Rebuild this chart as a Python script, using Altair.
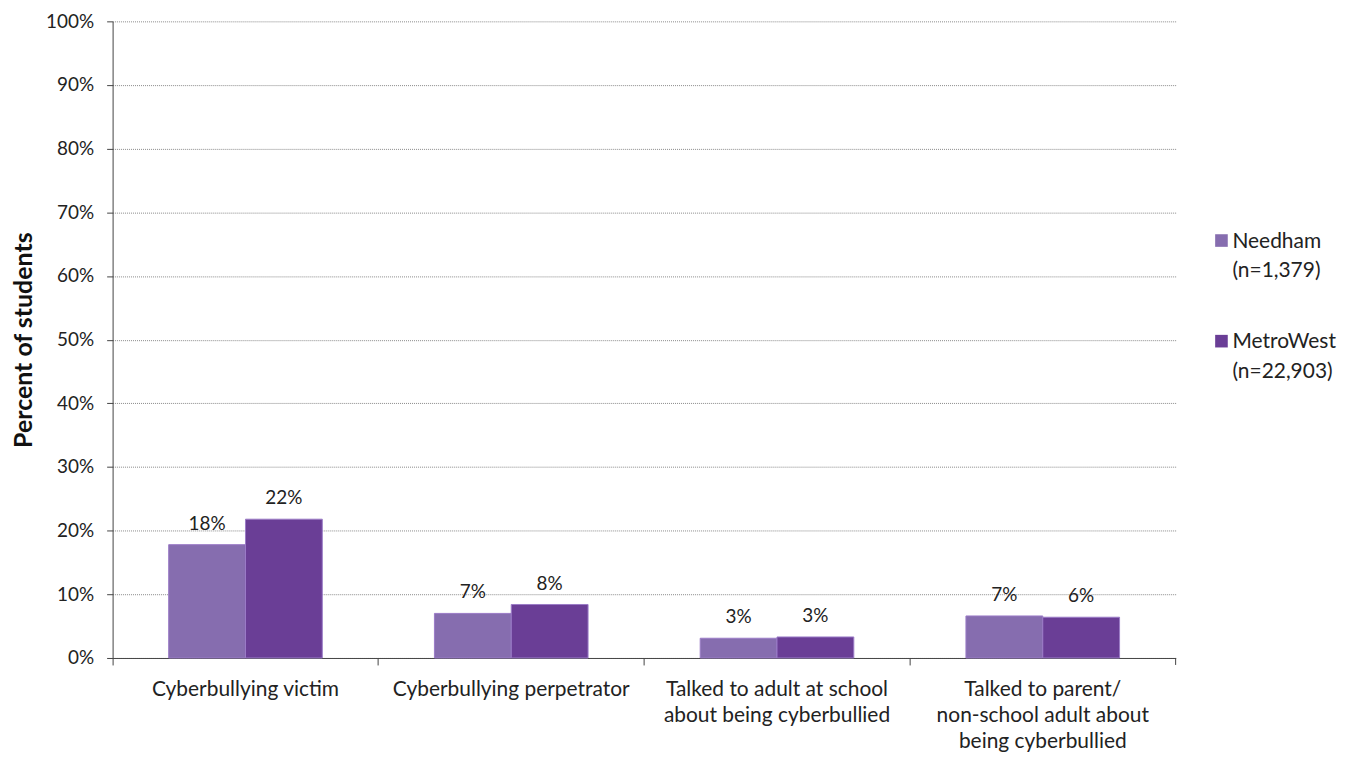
import altair as alt
import pandas as pd

categories = [
    "Cyberbullying victim",
    "Cyberbullying perpetrator",
    "Talked to adult at school|about being cyberbullied",
    "Talked to parent/|non-school adult about|being cyberbullied",
]
groups = ["Needham", "MetroWest"]
group_n = ["(n=1,379)", "(n=22,903)"]
needham = [0.178, 0.070, 0.031, 0.066]
metrowest = [0.218, 0.084, 0.033, 0.064]
colors = ["#866DAF", "#6A3E96"]

rows = []
for i, c in enumerate(categories):
    rows.append({"cat": c, "grp": groups[0], "val": needham[i]})
    rows.append({"cat": c, "grp": groups[1], "val": metrowest[i]})
df = pd.DataFrame(rows)

FONT = "Lato"
FS_TXT = 21
FS_NUM = 19

x = alt.X("cat:N", sort=categories, title=None,
          scale=alt.Scale(paddingInner=0, paddingOuter=0),
          axis=alt.Axis(labelExpr="split(datum.label, '|')", labelAngle=0,
                        bandPosition=0, tickSize=7, tickColor="#444",
                        domainColor="#444", labelPadding=14, labelFontSize=FS_TXT,
                        labelColor="#222", labelFont=FONT, labelLineHeight=26,
                        labelBaseline="top", labelLimit=400))
xo = alt.XOffset("grp:N", sort=groups,
                 scale=alt.Scale(paddingOuter=0.73, paddingInner=0))
y = alt.Y("val:Q", title="Percent of students",
          scale=alt.Scale(domain=[0, 1]),
          axis=alt.Axis(format=".0%", values=[i / 10 for i in range(11)],
                        gridDash=[1, 1], gridColor="#8a8a8a", gridWidth=1,
                        tickSize=6, tickColor="#444", domainColor="#444",
                        labelFontSize=FS_NUM, labelColor="#222", labelFont=FONT,
                        labelPadding=13, titleFontSize=25, titleFont=FONT,
                        titleFontWeight="bold", titleColor="#111",
                        titlePadding=9))

bars = alt.Chart(df).mark_bar(stroke="#9B7BC7", strokeWidth=1).encode(
    x=x, xOffset=xo, y=y,
    color=alt.Color("grp:N", sort=groups,
                    scale=alt.Scale(domain=groups, range=colors),
                    legend=None),
)
labels = alt.Chart(df).mark_text(dy=-21, fontSize=FS_NUM, font=FONT, color="#222").encode(
    x=x, xOffset=xo, y=y, text=alt.Text("val:Q", format=".0%"),
)
endtick = alt.Chart(pd.DataFrame({"a": [0]})).mark_rule(color="#444").encode(
    x=alt.value(1067), y=alt.value(639), y2=alt.value(646)
)

# legend (drawn manually to allow two-line labels with wide line spacing)
legend_layers = []
for i, g in enumerate(groups):
    base_y = 220 + i * 101
    one = alt.Chart(pd.DataFrame({"g": [g]}))
    legend_layers.append(
        one.mark_square(size=160, color=colors[i], opacity=1).encode(
            x=alt.value(1113), y=alt.value(base_y))
    )
    legend_layers.append(
        one.mark_text(align="left", baseline="alphabetic", fontSize=FS_TXT,
                      font=FONT, color="#222", lineHeight=30).encode(
            x=alt.value(1124), y=alt.value(base_y + 7),
            text=alt.value([g, "  " + group_n[i]]))
    )

chart = alt.layer(bars, labels, endtick, *legend_layers).properties(
    width=1067, height=639,
    autosize=alt.AutoSizeParams(type="none"),
    padding={"left": 105, "top": 12, "right": 170, "bottom": 100},
).configure(font=FONT).configure_view(stroke=None)

chart.save("out.html", embed_options={"renderer": "svg", "actions": False})
